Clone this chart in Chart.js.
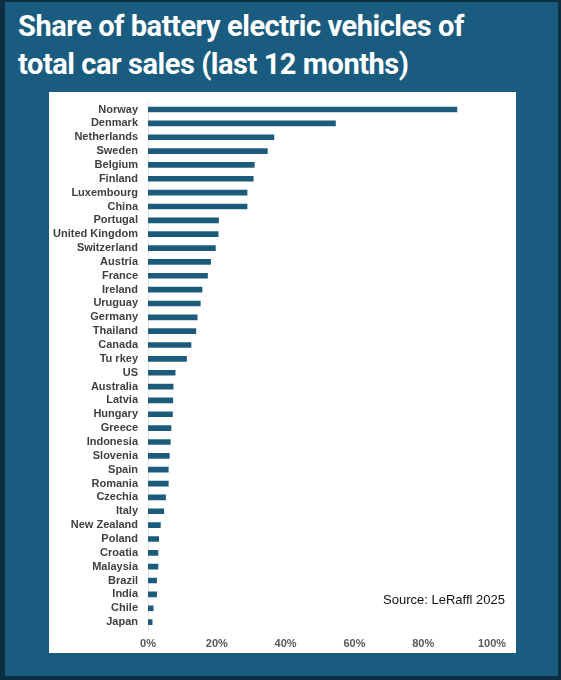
<!DOCTYPE html>
<html>
<head>
<meta charset="utf-8">
<script src="https://cdn.jsdelivr.net/npm/chart.js@4"></script>
<style>
  html, body { margin: 0; padding: 0; }
  body {
    width: 561px; height: 680px; overflow: hidden;
    background: #0e2f42; position: relative;
    font-family: "Liberation Sans", Arial, sans-serif;
  }
  #frame {
    position: absolute; left: 5px; top: 2px; width: 553px; height: 674px;
    background: #1a5c7f;
  }
  #title {
    position: absolute; left: 18px; top: 8px; width: 540px;
    color: #fff; font-family: Roboto, sans-serif; font-weight: 700;
    font-size: 29px; line-height: 37.5px; letter-spacing: -0.45px;
  }
  #panel {
    position: absolute; left: 49px; top: 92px; width: 467px; height: 561px;
    background: #fff;
  }
  #myChart { position: absolute; left: 0; top: -6px; }
  #source {
    position: absolute; right: 11px; top: 500px;
    font-size: 13px; color: #111;
  }
</style>
</head>
<body>
<div id="frame"></div>
<div id="title">Share of battery electric vehicles of<br>total car sales (last 12 months)</div>
<div id="panel">
  <canvas id="myChart" width="467" height="567"></canvas>
  <div id="source">Source: LeRaffl 2025</div>
</div>
<script>
// Countries, top to bottom
const countries = [
    'Norway', 'Denmark', 'Netherlands', 'Sweden', 'Belgium', 'Finland',
    'Luxembourg', 'China', 'Portugal', 'United Kingdom', 'Switzerland',
    'Austria', 'France', 'Ireland', 'Uruguay', 'Germany', 'Thailand',
    'Canada', 'Tu rkey', 'US', 'Australia', 'Latvia', 'Hungary', 'Greece',
    'Indonesia', 'Slovenia', 'Spain', 'Romania', 'Czechia', 'Italy',
    'New Zealand', 'Poland', 'Croatia', 'Malaysia', 'Brazil', 'India',
    'Chile', 'Japan',
];

// BEV share of car sales, %
const bevShare = [
    89.8, 54.5, 36.6, 34.7, 30.9, 30.6,
    28.8, 28.8, 20.5, 20.4, 19.6,
    18.2, 17.3, 15.7, 15.2, 14.3, 13.9,
    12.5, 11.2, 7.9, 7.3, 7.2, 7.1, 6.7,
    6.5, 6.2, 5.9, 5.9, 5.1, 4.6,
    3.6, 3.1, 2.9, 2.9, 2.5, 2.5,
    1.5, 1.2,
];

const xTicks = [0, 20, 40, 60, 80, 100];

const ctx = document.getElementById('myChart').getContext('2d');

new Chart(ctx, {
    type: 'bar',
    data: {
        labels: countries,
        datasets: [{
            data: bevShare,
            backgroundColor: '#1d5b7c',
            barThickness: 5,
        }],
    },
    options: {
        indexAxis: 'y',
        responsive: false,
        animation: false,
        layout: { padding: { top: 2, right: 24, left: 0, bottom: 0 } },
        plugins: {
            legend: { display: false },
            tooltip: { enabled: false },
        },
        scales: {
            x: {
                min: 0,
                max: 100,
                afterBuildTicks: (axis) => {
                    axis.ticks = xTicks.map((v) => ({ value: v }));
                },
                afterFit: (axis) => { axis.height = 24; },
                grid: { display: false, drawTicks: false },
                border: { display: false },
                ticks: {
                    padding: 8,
                    color: '#595959',
                    font: { family: 'Liberation Sans', size: 11, weight: 'bold' },
                    callback: (v) => v + '%',
                },
            },
            y: {
                afterFit: (axis) => { axis.width = 99; },
                grid: { display: false, drawTicks: false },
                border: { display: true, color: '#e3e3e3', width: 1 },
                ticks: {
                    padding: 10,
                    autoSkip: false,
                    color: '#3f3f3f',
                    font: { family: 'Liberation Sans', size: 11, weight: 'bold' },
                },
            },
        },
    },
});
</script>
</body>
</html>
